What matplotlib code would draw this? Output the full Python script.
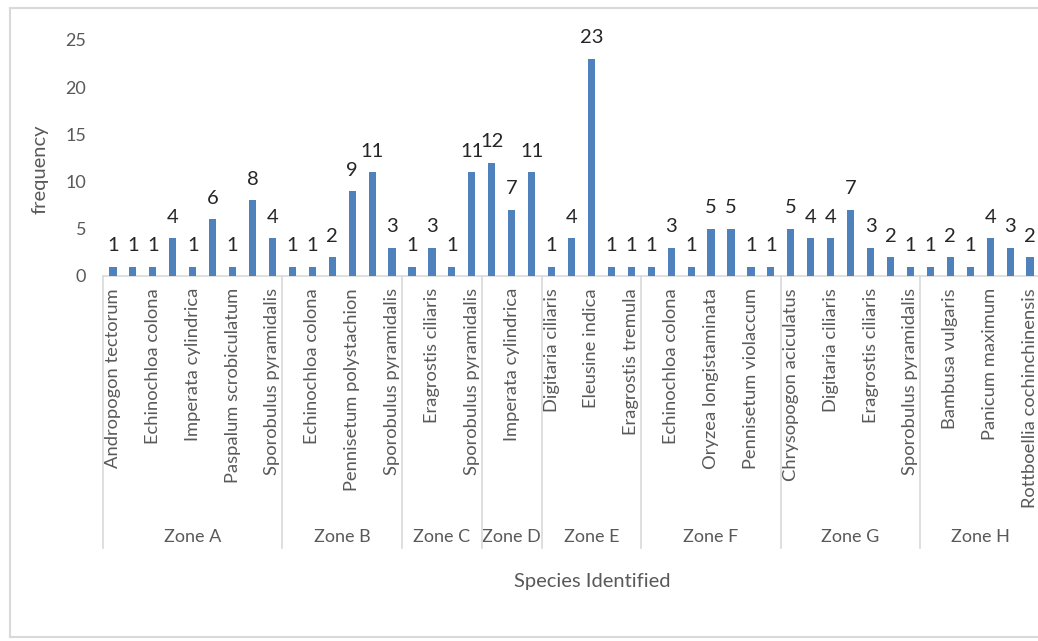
import matplotlib
matplotlib.use("Agg")
import matplotlib.pyplot as plt
from matplotlib.lines import Line2D

# ---- data ----
zones = ["Zone A", "Zone B", "Zone C", "Zone D", "Zone E", "Zone F", "Zone G", "Zone H"]
zone_species = [
    ["Andropogon tectorum", "", "Echinochloa colona", "", "Imperata cylindrica", "",
     "Paspalum scrobiculatum", "", "Sporobulus pyramidalis"],
    ["", "Echinochloa colona", "", "Pennisetum polystachion", "", "Sporobulus pyramidalis"],
    ["", "Eragrostis ciliaris", "", "Sporobulus pyramidalis"],
    ["", "Imperata cylindrica", ""],
    ["Digitaria ciliaris", "", "Eleusine indica", "", "Eragrostis tremula"],
    ["", "Echinochloa colona", "", "Oryzea longistaminata", "", "Pennisetum violaccum", ""],
    ["Chrysopogon aciculatus", "", "Digitaria ciliaris", "", "Eragrostis ciliaris", "",
     "Sporobulus pyramidalis"],
    ["", "Bambusa vulgaris", "", "Panicum maximum", "", "Rottboellia cochinchinensis"],
]
zone_values = [
    [1, 1, 1, 4, 1, 6, 1, 8, 4],
    [1, 1, 2, 9, 11, 3],
    [1, 3, 1, 11],
    [12, 7, 11],
    [1, 4, 23, 1, 1],
    [1, 3, 1, 5, 5, 1, 1],
    [5, 4, 4, 7, 3, 2, 1],
    [1, 2, 1, 4, 3, 2],
]
y_ticks = [0, 5, 10, 15, 20, 25]
y_title = "frequency"
x_title = "Species Identified"

# ---- figure ----
W, H = 1038, 641
fig = plt.figure(figsize=(W / 100, H / 100), dpi=100)
FONT = ["Lato", "DejaVu Sans"]
plt.rcParams["font.family"] = FONT

def fx(x):
    return x / W

def fy(y):
    return 1 - y / H

left_px, right_px, top_px, bot_px = 103, 1040, 40, 276
ax = fig.add_axes([fx(left_px), fy(bot_px), (right_px - left_px) / W, (bot_px - top_px) / H])

values = [v for zv in zone_values for v in zv]
labels = [s for zs in zone_species for s in zs]
n = len(values)
xs = list(range(n))

ax.bar(xs, values, width=0.36, color="#4F81BD", zorder=3)
ax.set_xlim(-0.5, n - 0.5)
ax.set_ylim(0, 25)
ax.set_yticks(y_ticks)
ax.tick_params(axis="y", length=0, labelsize=13, labelcolor="#595959", pad=12)
ax.tick_params(axis="x", length=0, labelbottom=False)
for s in ["top", "right", "left"]:
    ax.spines[s].set_visible(False)
ax.spines["bottom"].set_color("#D9D9D9")
ax.spines["bottom"].set_linewidth(1.2)
ax.patch.set_alpha(0)

for x, v in zip(xs, values):
    ax.annotate(str(v), (x, v), xytext=(0, 9), textcoords="offset points",
                ha="center", va="bottom", fontsize=14.5, color="#262626")

bt = matplotlib.transforms.blended_transform_factory(ax.transData, fig.transFigure)

# category labels (every other)
for i, lab in enumerate(labels):
    if i % 2 == 0 and lab:
        ax.text(i, fy(288), lab, transform=bt,
                rotation=90, ha="center", va="top", fontsize=13.2, color="#595959")

# zone separators and labels
start = 0
bounds = [-0.5]
for z, zv in zip(zones, zone_values):
    end = start + len(zv)
    bounds.append(end - 0.5)
    ax.text((start + end - 1) / 2, fy(537), z, transform=bt, ha="center", va="center",
            fontsize=13, color="#595959")
    start = end
for b in bounds:
    fig.add_artist(Line2D([b, b], [fy(bot_px), fy(548)], transform=bt, color="#D9D9D9", lw=1.2))

fig.text(fx(592), fy(582), x_title, ha="center", va="center", fontsize=14.5, color="#595959")
fig.text(fx(40), fy(169), y_title, ha="center", va="center", rotation=90, fontsize=14.5, color="#595959")

# outer frame
fig.add_artist(Line2D([fx(10), fx(1038)], [fy(8), fy(8)], color="#D9D9D9", lw=1.5))
fig.add_artist(Line2D([fx(10), fx(10)], [fy(8), fy(637)], color="#D9D9D9", lw=1.5))
fig.add_artist(Line2D([fx(10), fx(1038)], [fy(637), fy(637)], color="#D9D9D9", lw=1.5))

fig.savefig("out.png", dpi=100)
